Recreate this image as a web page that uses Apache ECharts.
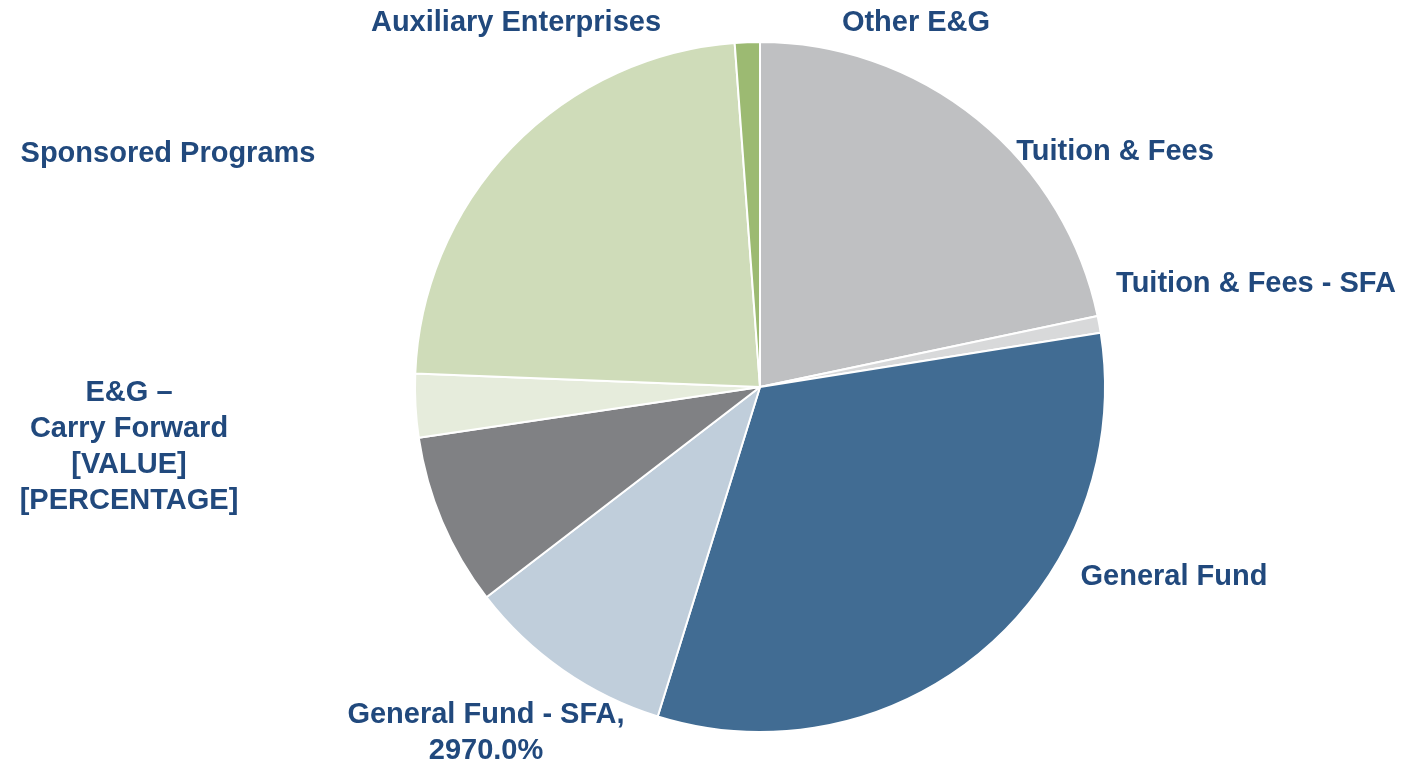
<!DOCTYPE html>
<html>
<head>
<meta charset="utf-8">
<script src="https://cdn.jsdelivr.net/npm/echarts@6/dist/echarts.min.js"></script>
<style>
  html, body { margin: 0; padding: 0; background: #ffffff; }
  #chart { width: 1412px; height: 762px; }
</style>
</head>
<body>
<div id="chart"></div>
<script>
// slices, clockwise from 12 o'clock (share of total, %)
var categories = [
    'Tuition & Fees',
    'Tuition & Fees - SFA',
    'General Fund',
    'General Fund - SFA',
    'Other E&G',
    'E&G \u2013 Carry Forward',
    'Sponsored Programs',
    'Auxiliary Enterprises'
];
var values = [21.7, 0.78, 32.3, 9.78, 8.08, 2.97, 23.2, 1.17];

// label text as printed on the chart
var labelTexts = [
    'Tuition & Fees',
    'Tuition & Fees - SFA',
    'General Fund',
    'General Fund - SFA,\n2970.0%',
    'Other E&G',
    'E&G \u2013\nCarry Forward\n[VALUE]\n[PERCENTAGE]',
    'Sponsored Programs',
    'Auxiliary Enterprises'
];

var sliceColors = ['#bfc0c2', '#d8d9da', '#416c93', '#c0cedb', '#808184', '#e6ecdc', '#cfdcb9', '#9cba72'];

// labels were moved by hand in the original, so pin them
var labelPos = [
    [1115, 152], [1256, 284], [1174, 577], [486, 733],
    [916, 23], [129, 447], [168, 154], [516, 23]
];

var pieData = categories.map(function (name, i) {
    return {
        name: name,
        value: values[i],
        itemStyle: { color: sliceColors[i] },
        label: { formatter: labelTexts[i] }
    };
});

var chart = echarts.init(document.getElementById('chart'));
chart.setOption({
    animation: false,
    series: [{
        type: 'pie',
        center: [760, 387],
        radius: [0, 345],
        startAngle: 90,
        clockwise: true,
        data: pieData,
        itemStyle: { borderColor: '#ffffff', borderWidth: 2 },
        label: {
            show: true,
            position: 'outside',
            color: '#21497d',
            fontFamily: 'Liberation Sans, Arial, sans-serif',
            fontWeight: 'bold',
            fontSize: 29,
            lineHeight: 36,
            align: 'center',
            overflow: 'none'
        },
        labelLine: { show: false },
        labelLayout: function (params) {
            var p = labelPos[params.dataIndex];
            return { x: p[0], y: p[1], align: 'center', verticalAlign: 'middle' };
        },
        emphasis: { disabled: true }
    }]
});
window.addEventListener('resize', function () { chart.resize(); });
</script>
</body>
</html>
